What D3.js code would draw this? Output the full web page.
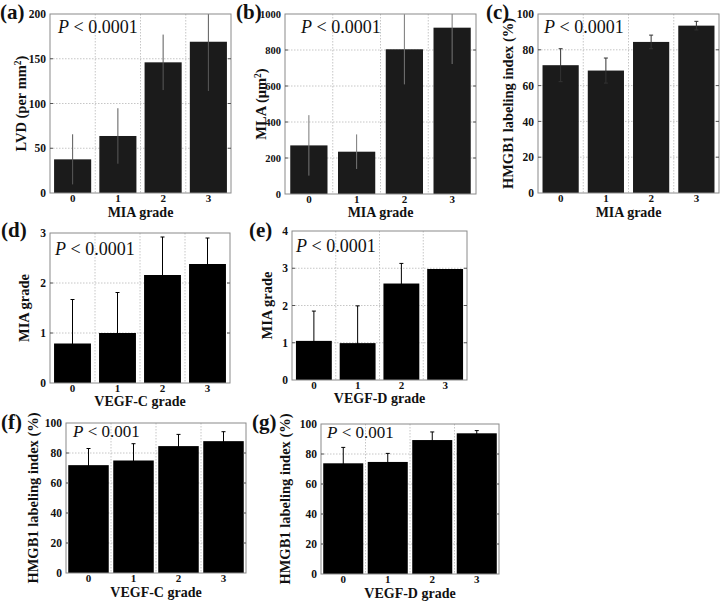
<!DOCTYPE html>
<html><head><meta charset="utf-8">
<script src="https://cdn.jsdelivr.net/npm/d3@7"></script>
<style>body{margin:0;background:#fff;}</style></head>
<body><svg id="c" width="720" height="602"></svg>
<script>
const grades = ["0","1","2","3"];
// (a) LVD by MIA grade
const lvdMean = [37.6, 63.7, 146, 169];
const lvdSD   = [28, 31, 31, 55];
// (b) MLA by MIA grade
const mlaMean = [270, 235, 804, 924];
const mlaSD   = [168, 96, 195, 202];
// (c) HMGB1 by MIA grade
const hmgbMiaMean = [71.4, 68.4, 84.4, 93.5];
const hmgbMiaSD   = [9.2, 7.0, 3.8, 2.4];
// (d) MIA grade by VEGF-C grade
const miaVegfCMean = [0.79, 1.00, 2.16, 2.38];
const miaVegfCSD   = [0.88, 0.81, 0.76, 0.52];
// (e) MIA grade by VEGF-D grade
const miaVegfDMean = [1.05, 0.99, 2.59, 2.98];
const miaVegfDSD   = [0.80, 1.00, 0.54, 0];
// (f) HMGB1 by VEGF-C grade
const hmgbVegfCMean = [71.9, 75.0, 84.6, 87.9];
const hmgbVegfCSD   = [11.1, 11.2, 7.8, 6.3];
// (g) HMGB1 by VEGF-D grade
const hmgbVegfDMean = [73.8, 74.7, 89.3, 93.8];
const hmgbVegfDSD   = [10.6, 5.7, 5.4, 1.8];
// tick values
const ticksLVD = [0,50,100,150,200];
const ticksMLA = [0,200,400,600,800,1000];
const ticksPct = [0,20,40,60,80,100];
const ticksG3 = [0,1,2,3];
const ticksG4 = [0,1,2,3,4];

const FONT = '"Liberation Serif","Times New Roman",Times,serif';
const svg = d3.select("#c").style("font-family", FONT);

function txt(sel){ return sel.style("font-family", FONT).attr("fill", "#111"); }

function panel(c){
  const g = svg.append("g");
  const x = d3.scaleBand().domain(grades).range([c.left, c.right]).paddingInner(c.pad).paddingOuter(c.pad/2);
  const y = d3.scaleLinear().domain([0, c.yMax]).range([c.bottom, c.top]);
  const w = c.right - c.left, h = c.bottom - c.top;
  const clipId = "clip" + c.label.replace(/\W/g,"");
  g.append("clipPath").attr("id", clipId).append("rect")
    .attr("x", c.left).attr("y", c.top).attr("width", w).attr("height", h);
  // gridlines
  const grid = g.append("g").attr("stroke", "#b8b8b8").attr("stroke-width", 0.8).attr("stroke-dasharray", "1.5,1.5");
  c.ticks.slice(1, -1).forEach(t => {
    grid.append("line").attr("x1", c.left).attr("x2", c.right).attr("y1", y(t)).attr("y2", y(t));
  });
  const step = w / grades.length;
  for (let i = 1; i < grades.length; i++) {
    grid.append("line").attr("x1", c.left + step*i).attr("x2", c.left + step*i).attr("y1", c.top).attr("y2", c.bottom);
  }
  // bars
  g.append("g").selectAll("rect").data(grades).join("rect")
    .attr("x", d => x(d)).attr("width", x.bandwidth())
    .attr("y", (d,i) => y(c.means[i])).attr("height", (d,i) => y(0) - y(c.means[i]))
    .attr("fill", c.barColor);
  // error bars
  const eb = g.append("g").attr("clip-path", `url(#${clipId})`).attr("stroke", c.errColor).attr("stroke-width", 1);
  grades.forEach((d,i) => {
    if (c.sds[i] <= 0) return;
    const cx = x(d) + x.bandwidth()/2;
    const hi = c.means[i] + c.sds[i], lo = Math.max(0, c.means[i] - c.sds[i]);
    eb.append("line").attr("x1", cx).attr("x2", cx).attr("y1", y(hi)).attr("y2", y(lo));
    if (c.caps) {
      eb.append("line").attr("x1", cx-2).attr("x2", cx+2).attr("y1", y(hi)).attr("y2", y(hi));
      eb.append("line").attr("x1", cx-2).attr("x2", cx+2).attr("y1", y(lo)).attr("y2", y(lo));
    }
  });
  // frame
  g.append("rect").attr("x", c.left).attr("y", c.top).attr("width", w).attr("height", h)
    .attr("fill", "none").attr("stroke", "#8a8a8a").attr("stroke-width", 1);
  // y axis
  const yAxis = d3.axisLeft(y).tickValues(c.ticks).tickSize(0).tickPadding(4).tickFormat(d3.format("d"));
  const ya = g.append("g").attr("transform", `translate(${c.left},0)`).call(yAxis);
  ya.select(".domain").remove();
  txt(ya.selectAll("text")).attr("font-size", c.tickSize || 11.5).attr("font-weight", "bold");
  // inward ticks on both sides
  const tk = g.append("g").attr("stroke", "#555").attr("stroke-width", 1);
  c.ticks.slice(1,-1).forEach(t => {
    tk.append("line").attr("x1", c.left).attr("x2", c.left+3).attr("y1", y(t)).attr("y2", y(t));
    tk.append("line").attr("x1", c.right-3).attr("x2", c.right).attr("y1", y(t)).attr("y2", y(t));
  });
  // x axis
  const xAxis = d3.axisBottom(x).tickSize(0).tickPadding(1);
  const xa = g.append("g").attr("transform", `translate(0,${c.bottom})`).call(xAxis);
  xa.select(".domain").remove();
  txt(xa.selectAll("text")).attr("font-size", 11).attr("font-weight", "bold");
  // x title
  txt(g.append("text")).attr("x", (c.left+c.right)/2).attr("y", c.bottom + c.xtDy)
    .attr("text-anchor", "middle").attr("font-size", 14).attr("font-weight", "bold").text(c.xTitle);
  // y title
  const yt = txt(g.append("text")).attr("transform", `translate(${c.left + c.ytDx},${(c.top+c.bottom)/2}) rotate(-90)`)
    .attr("text-anchor", "middle").attr("font-size", 14.5).attr("font-weight", "bold");
  c.yTitle.forEach(s => {
    const ts = yt.append("tspan").text(s.t);
    if (s.sup) ts.attr("dy", -5).attr("font-size", 9.5);
    if (s.after) ts.attr("dy", 5);
  });
  // P text
  const pt = txt(g.append("text")).attr("x", c.left + c.pDx).attr("y", c.top + c.pDy).attr("font-size", c.pSize);
  pt.append("tspan").attr("font-style", "italic").text("P");
  pt.append("tspan").text(" < " + c.pVal);
  // panel label
  txt(g.append("text")).attr("x", c.lx).attr("y", c.ly).attr("font-size", 21).attr("font-weight", "bold").text(c.label);
}

panel({label:"(a)", left:50, right:231, top:14, bottom:193, yMax:200, ticks:ticksLVD,
  means:lvdMean, sds:lvdSD, pad:0.18, barColor:"#1b1b1b", errColor:"#5a5a5a", caps:false,
  xTitle:"MIA grade", xtDy:24, ytDx:-24, yTitle:[{t:"LVD (per mm"},{t:"2",sup:true},{t:")",after:true}],
  pVal:"0.0001", pSize:18, pDx:8, pDy:19, lx:0, ly:19});
panel({label:"(b)", left:285, right:476, top:14, bottom:194, yMax:1000, ticks:ticksMLA,
  means:mlaMean, sds:mlaSD, pad:0.22, barColor:"#1b1b1b", errColor:"#777", caps:false, tickSize:10.5,
  xTitle:"MIA grade", xtDy:23, ytDx:-19, yTitle:[{t:"MLA (μm"},{t:"2",sup:true},{t:")",after:true}],
  pVal:"0.0001", pSize:18, pDx:16, pDy:19, lx:236, ly:19});
panel({label:"(c)", left:538, right:719, top:14, bottom:193, yMax:100, ticks:ticksPct,
  means:hmgbMiaMean, sds:hmgbMiaSD, pad:0.2, barColor:"#1b1b1b", errColor:"#333", caps:true,
  xTitle:"MIA grade", xtDy:24, ytDx:-25, yTitle:[{t:"HMGB1 labeling index (%)"}],
  pVal:"0.0001", pSize:18, pDx:6, pDy:19, lx:486, ly:19});
panel({label:"(d)", left:50, right:230, top:233, bottom:383, yMax:3, ticks:ticksG3,
  means:miaVegfCMean, sds:miaVegfCSD, pad:0.18, barColor:"#000", errColor:"#000", caps:true,
  xTitle:"VEGF-C grade", xtDy:23, ytDx:-21, yTitle:[{t:"MIA grade"}],
  pVal:"0.0001", pSize:18, pDx:5, pDy:22, lx:1, ly:237});
panel({label:"(e)", left:292, right:467, top:231, bottom:380, yMax:4, ticks:ticksG4,
  means:miaVegfDMean, sds:miaVegfDSD, pad:0.18, barColor:"#000", errColor:"#000", caps:true,
  xTitle:"VEGF-D grade", xtDy:23, ytDx:-20, yTitle:[{t:"MIA grade"}],
  pVal:"0.0001", pSize:18, pDx:4, pDy:21, lx:249, ly:237});
panel({label:"(f)", left:66, right:246, top:423, bottom:573, yMax:100, ticks:ticksPct,
  means:hmgbVegfCMean, sds:hmgbVegfCSD, pad:0.1, barColor:"#000", errColor:"#000", caps:true,
  xTitle:"VEGF-C grade", xtDy:24, ytDx:-28, yTitle:[{t:"HMGB1 labeling index (%)"}],
  pVal:"0.001", pSize:17, pDx:7, pDy:14, lx:1, ly:429});
panel({label:"(g)", left:321, right:499, top:424, bottom:574, yMax:100, ticks:ticksPct,
  means:hmgbVegfDMean, sds:hmgbVegfDSD, pad:0.1, barColor:"#000", errColor:"#000", caps:true,
  xTitle:"VEGF-D grade", xtDy:24, ytDx:-31, yTitle:[{t:"HMGB1 labeling index (%)"}],
  pVal:"0.001", pSize:17, pDx:6, pDy:14, lx:252, ly:429});
</script></body></html>
